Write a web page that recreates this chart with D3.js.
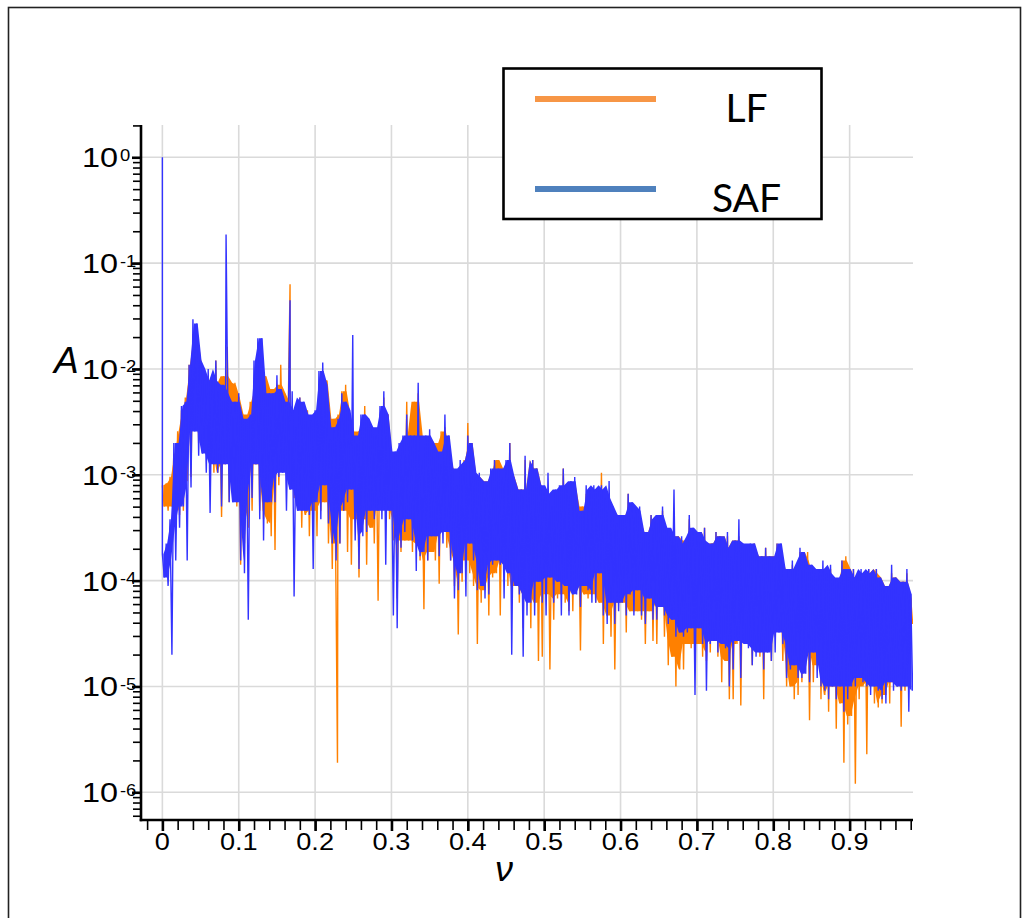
<!DOCTYPE html>
<html><head><meta charset="utf-8">
<script src="https://cdn.jsdelivr.net/npm/d3@7"></script>
<style>html,body{margin:0;padding:0;background:#fff;} svg{display:block;}</style>
</head><body>
<svg id="chart" width="1023" height="918"></svg>
<script>
// ---------------- DATA ----------------
// Spectrum sampled in bins of width freqStep (ν = i * freqStep).
// For every bin: upper and lower excursion of the amplitude A, stored as log10(A).
const freqStep = 0.005;

const safHiLog10 = [
-3.75,-3.65,-3.42,-2.70,-2.70,-2.35,-2.31,-1.96,-1.53,-1.57,
-1.92,-2.11,-2.00,-2.11,-1.92,-2.15,-2.23,-1.88,-2.35,-2.31,
-2.23,-2.47,-2.49,-2.43,-1.92,-1.71,-1.71,-2.23,-2.23,-2.23,
-2.06,-2.19,-2.31,-2.39,-2.21,-2.55,-2.27,-2.31,-2.43,-2.49,
-2.39,-2.02,-1.94,-2.15,-2.67,-2.55,-2.47,-2.23,-2.31,-2.39,
-2.63,-2.70,-2.43,-2.43,-2.47,-2.55,-2.63,-2.35,-2.21,-2.43,
-2.86,-2.78,-2.70,-2.63,-2.43,-2.63,-2.63,-2.13,-2.86,-2.63,
-2.57,-2.70,-2.78,-2.90,-2.43,-2.63,-2.94,-3.10,-2.86,-2.90,
-2.63,-2.70,-3.02,-2.98,-3.06,-3.10,-2.94,-2.86,-2.94,-3.02,
-2.86,-2.70,-3.02,-3.14,-3.14,-2.82,-3.14,-2.86,-2.94,-3.10,
-3.18,-2.98,-3.30,-3.14,-3.10,-2.94,-3.14,-3.06,-3.02,-3.34,
-3.34,-3.10,-3.14,-3.10,-3.14,-3.10,-3.22,-3.06,-3.30,-3.46,
-3.38,-3.38,-3.18,-3.26,-3.34,-3.30,-3.54,-3.54,-3.38,-3.42,
-3.38,-3.30,-3.50,-3.58,-3.14,-3.65,-3.58,-3.65,-3.38,-3.50,
-3.54,-3.62,-3.50,-3.77,-3.65,-3.54,-3.58,-3.69,-3.54,-3.77,
-3.62,-3.42,-3.65,-3.69,-3.65,-3.65,-3.81,-3.77,-3.69,-3.77,
-3.81,-3.65,-3.65,-4.01,-3.89,-3.81,-3.89,-3.69,-3.73,-3.85,
-3.85,-3.93,-3.89,-3.81,-3.93,-3.85,-3.97,-4.01,-3.81,-3.89,
-3.97,-3.89,-3.97,-3.89,-3.93,-3.89,-3.97,-3.89,-3.97,-4.05,
-4.05,-3.85,-3.97,-4.13,-4.01,-3.89,-4.13
];
const safLoLog10 = [
-3.97,-4.05,-4.70,-3.81,-3.50,-3.30,-3.81,-3.12,-2.59,-2.82,
-2.80,-2.98,-3.36,-2.90,-2.98,-3.30,-2.90,-3.26,-3.26,-3.26,
-3.81,-3.93,-4.37,-3.22,-2.90,-3.42,-3.62,-3.26,-3.26,-3.26,
-3.02,-2.98,-3.34,-3.14,-4.15,-3.34,-3.34,-3.34,-3.38,-3.89,
-3.26,-3.42,-3.10,-3.46,-3.65,-3.81,-3.65,-3.34,-3.26,-3.14,
-3.62,-3.89,-3.58,-3.54,-3.34,-3.42,-3.34,-3.42,-3.85,-3.34,
-4.33,-4.45,-3.69,-3.54,-3.42,-3.62,-3.91,-3.77,-3.73,-3.81,
-3.58,-3.58,-3.77,-3.65,-3.54,-3.81,-4.17,-4.09,-3.93,-4.15,
-3.65,-3.81,-4.09,-4.05,-4.17,-4.13,-3.85,-3.81,-3.85,-4.17,
-3.93,-4.70,-4.05,-4.13,-4.72,-4.33,-4.21,-4.33,-4.01,-4.21,
-4.33,-3.97,-4.21,-4.01,-4.33,-4.05,-4.33,-4.13,-4.13,-4.25,
-4.05,-4.09,-4.21,-4.21,-3.93,-4.33,-4.41,-4.21,-4.41,-4.29,
-4.21,-4.33,-4.13,-4.33,-4.09,-4.33,-4.41,-4.17,-4.37,-4.37,
-4.25,-4.33,-4.41,-4.37,-4.53,-4.49,-4.53,-4.49,-4.45,-5.08,
-4.45,-4.60,-5.04,-4.60,-4.57,-4.68,-4.60,-4.64,-5.00,-4.84,
-4.57,-4.92,-4.60,-4.64,-4.80,-4.72,-4.68,-4.84,-4.68,-4.76,
-4.68,-4.49,-4.60,-4.92,-4.84,-4.80,-4.92,-4.92,-4.88,-4.96,
-4.68,-4.92,-5.00,-5.04,-5.12,-5.00,-5.12,-5.00,-5.24,-5.12,
-5.00,-5.00,-4.92,-4.96,-5.00,-5.08,-5.00,-5.04,-5.12,-5.16,
-4.96,-5.04,-5.00,-5.04,-5.00,-5.24,-5.04
];
const lfHiLog10 = [
-3.10,-3.08,-3.02,-2.80,-2.59,-2.39,-2.27,-1.96,-1.67,-1.63,
-1.94,-2.11,-2.07,-2.23,-1.92,-2.15,-2.07,-1.79,-2.15,-2.13,
-2.27,-2.43,-2.49,-2.31,-2.19,-1.83,-2.07,-2.07,-2.39,-2.19,
-2.15,-1.96,-2.23,-2.31,-2.47,-2.39,-2.27,-2.55,-2.39,-2.55,
-2.63,-2.15,-2.02,-2.11,-2.67,-2.47,-2.43,-2.21,-2.15,-2.43,
-2.59,-2.63,-2.55,-2.35,-2.55,-2.63,-2.63,-2.43,-2.27,-2.43,
-2.86,-2.86,-2.78,-2.70,-2.31,-2.63,-2.31,-2.23,-2.86,-2.65,
-2.63,-2.70,-2.78,-2.59,-2.55,-2.78,-2.94,-3.10,-2.98,-2.86,
-2.51,-2.70,-3.02,-3.02,-3.06,-3.10,-2.98,-2.86,-2.86,-2.94,
-2.94,-2.70,-3.02,-3.14,-3.14,-2.86,-3.14,-2.86,-2.94,-3.10,
-3.18,-3.14,-3.42,-3.34,-3.14,-2.94,-3.26,-3.10,-3.10,-3.42,
-3.30,-3.18,-3.30,-3.22,-3.14,-2.98,-3.26,-3.22,-3.34,-3.46,
-3.38,-3.42,-3.18,-3.30,-3.42,-3.42,-3.54,-3.54,-3.38,-3.42,
-3.42,-3.34,-3.54,-3.58,-3.58,-3.58,-3.62,-3.65,-3.42,-3.54,
-3.54,-3.65,-3.50,-3.69,-3.65,-3.54,-3.58,-3.69,-3.58,-3.77,
-3.62,-3.58,-3.69,-3.69,-3.69,-3.65,-3.81,-3.77,-3.69,-3.77,
-3.77,-3.65,-3.77,-3.97,-3.89,-3.85,-3.89,-3.73,-3.81,-3.73,
-3.93,-3.93,-3.89,-3.97,-4.01,-3.89,-4.01,-4.01,-3.81,-3.77,
-4.01,-3.89,-3.97,-3.93,-3.93,-3.89,-3.93,-3.89,-3.97,-4.05,
-4.05,-3.93,-3.97,-4.05,-4.01,-3.93,-4.17
];
const lfLoLog10 = [
-3.30,-3.34,-3.30,-3.50,-3.38,-3.34,-3.06,-3.02,-2.31,-2.70,
-2.63,-2.78,-2.78,-2.98,-2.98,-3.40,-2.90,-3.26,-2.86,-3.30,
-3.85,-3.65,-3.50,-3.34,-2.90,-3.34,-3.42,-3.46,-3.58,-3.71,
-3.10,-2.86,-2.86,-3.14,-3.22,-3.18,-3.50,-3.38,-3.58,-3.34,
-3.58,-3.34,-3.26,-3.65,-3.89,-4.19,-3.65,-3.34,-3.73,-3.85,
-3.42,-3.97,-3.42,-3.85,-3.50,-3.65,-4.19,-3.26,-3.30,-3.42,
-3.62,-4.17,-3.73,-3.62,-3.62,-3.73,-3.65,-3.81,-4.27,-3.81,
-3.73,-3.81,-4.03,-3.54,-3.69,-3.81,-4.05,-4.51,-4.01,-3.81,
-3.93,-4.05,-4.60,-4.21,-4.09,-4.33,-3.97,-3.93,-4.33,-3.81,
-4.05,-4.13,-4.05,-4.21,-4.45,-4.13,-4.45,-4.21,-4.76,-4.72,
-4.13,-4.84,-4.37,-4.17,-4.13,-4.21,-4.29,-4.29,-4.05,-4.66,
-4.13,-4.17,-4.13,-4.21,-4.21,-4.60,-4.33,-4.53,-4.84,-4.21,
-4.21,-4.49,-4.29,-4.29,-4.29,-4.37,-4.60,-4.29,-4.57,-4.60,
-4.21,-4.53,-4.80,-4.72,-5.00,-4.84,-4.84,-4.60,-4.64,-4.72,
-4.60,-4.72,-4.76,-4.68,-4.49,-4.72,-4.96,-4.76,-5.12,-5.12,
-4.60,-5.18,-4.49,-4.57,-4.80,-4.64,-4.72,-5.12,-4.60,-4.76,
-4.53,-4.45,-4.76,-5.00,-5.00,-5.12,-5.08,-4.96,-4.60,-5.32,
-4.96,-4.80,-5.12,-5.08,-5.24,-5.00,-5.40,-5.16,-5.72,-5.36,
-5.28,-5.92,-5.12,-5.00,-5.64,-4.96,-5.16,-5.20,-5.16,-5.08,
-5.16,-4.96,-5.00,-5.38,-5.04,-4.92,-4.41
];
// isolated sharp lines (ν, log10 A)
const safSpikeFreq = [0, 0.0834, 0.1672, 0.2493];
const safSpikeLog10 = [0, -0.73, -1.35, -1.68];
const lfSpikeFreq = [0.1672, 0.2293];
const lfSpikeLog10 = [-1.20, -5.72];

const xTickMajor = [0, 0.1, 0.2, 0.3, 0.4, 0.5, 0.6, 0.7, 0.8, 0.9];
const xTickLabels = ["0", "0.1", "0.2", "0.3", "0.4", "0.5", "0.6", "0.7", "0.8", "0.9"];
const yDecades = [0, -1, -2, -3, -4, -5, -6];
const seriesNames = ["LF", "SAF"];
const seriesColors = ["#ff8000", "#3333ff"];
const legendColors = ["#f79646", "#4f81bd"];

// ---------------- CHART ----------------
const svg = d3.select('#chart');
svg.append('rect').attr('x', 8.5).attr('y', 7.5).attr('width', 1012).attr('height', 940)
  .attr('fill', 'none').attr('stroke', '#222').attr('stroke-width', 1.6);

const x = d3.scaleLinear().domain([-0.028, 0.983]).range([141, 913]);
const y = d3.scaleLog().domain([Math.pow(10, -6.262), Math.pow(10, 0.305)]).range([820, 125]);
const [x0, x1] = x.range();
const [yB, yT] = y.range();

// grid
const grid = svg.append('g').attr('stroke', '#dadada').attr('stroke-width', 1.6);
grid.selectAll('line.v').data(xTickMajor).join('line')
  .attr('x1', d => x(d)).attr('x2', d => x(d)).attr('y1', yT).attr('y2', yB);
grid.selectAll('line.h').data(yDecades).join('line')
  .attr('x1', x0).attr('x2', x1).attr('y1', d => y(Math.pow(10, d))).attr('y2', d => y(Math.pow(10, d)));

// data
svg.append('clipPath').attr('id', 'clip').append('rect')
  .attr('x', x0).attr('y', yT).attr('width', x1 - x0).attr('height', yB - yT);

function buildPoints(hi, lo, sf, sl) {
  const pts = [];
  sf.forEach((f, i) => pts.push({ f: f, a: Math.pow(10, sl[i]), o: 0 }));
  hi.forEach((h, i) => {
    pts.push({ f: i * freqStep, a: Math.pow(10, h), o: 1 });
    pts.push({ f: i * freqStep + freqStep / 2, a: Math.pow(10, lo[i]), o: 1 });
  });
  pts.sort((p, q) => (p.f - q.f) || (p.o - q.o));
  return pts;
}
// dense body of each trace: from the median neighbouring peak down to the shallowest neighbouring dip
function buildBody(hi, lo) {
  const n = hi.length;
  return hi.map((h, i) => {
    const a = Math.max(0, i - 1), b = Math.min(n - 1, i + 1);
    const top = d3.median([hi[a], hi[i], hi[b]]);
    const bot = Math.max(lo[a], lo[i], lo[b]);
    return { f: i * freqStep + freqStep / 4, top: Math.pow(10, Math.max(top, bot)), bot: Math.pow(10, Math.min(top, bot)) };
  });
}
const line = d3.line().x(d => x(d.f)).y(d => y(d.a));
const area = d3.area().x(d => x(d.f)).y0(d => y(d.bot)).y1(d => y(d.top));
const plot = svg.append('g').attr('clip-path', 'url(#clip)');
const series = [
  [lfHiLog10, lfLoLog10, lfSpikeFreq, lfSpikeLog10],
  [safHiLog10, safLoLog10, safSpikeFreq, safSpikeLog10]
];
series.forEach((s, k) => {
  plot.append('path').datum(buildBody(s[0], s[1])).attr('d', area)
    .attr('fill', seriesColors[k]).attr('stroke', 'none');
  plot.append('path').datum(buildPoints(s[0], s[1], s[2], s[3]))
    .attr('d', line).attr('fill', 'none').attr('stroke', seriesColors[k]).attr('stroke-width', 1.4);
});

// axes
const xMinor = d3.range(-2, 50).map(i => i * 0.02).filter(v => v >= x.domain()[0] && v <= x.domain()[1]);
svg.append('g').attr('transform', `translate(0,${yB})`)
  .call(d3.axisBottom(x).tickValues(xMinor).tickSize(10).tickSizeOuter(0).tickFormat(''))
  .call(g => g.select('.domain').remove())
  .call(g => g.selectAll('line').attr('stroke', '#000').attr('stroke-width', 1.6));
svg.append('g').attr('transform', `translate(0,${yB})`)
  .call(d3.axisBottom(x).tickValues(xTickMajor).tickSize(11).tickSizeOuter(0).tickFormat(''))
  .call(g => g.select('.domain').remove())
  .call(g => g.selectAll('line').attr('stroke', '#000').attr('stroke-width', 2.6));

const yMinor = [];
for (let k = -7; k <= 0; k++) for (let m = 1; m <= 9; m++) {
  const v = m * Math.pow(10, k);
  if (v >= y.domain()[0] && v <= y.domain()[1] * 1.0001) yMinor.push(v);
}
svg.append('g').attr('transform', `translate(${x0},0)`)
  .call(d3.axisLeft(y).tickValues(yMinor).tickSize(8).tickSizeOuter(0).tickFormat(''))
  .call(g => g.select('.domain').remove())
  .call(g => g.selectAll('line').attr('stroke', '#000').attr('stroke-width', 1.6));
svg.append('g').attr('transform', `translate(${x0},0)`)
  .call(d3.axisLeft(y).tickValues(yDecades.map(d => Math.pow(10, d))).tickSize(9).tickSizeOuter(0).tickFormat(''))
  .call(g => g.select('.domain').remove())
  .call(g => g.selectAll('line').attr('stroke', '#000').attr('stroke-width', 2.6));

svg.append('line').attr('x1', x0).attr('x2', x0).attr('y1', yT).attr('y2', yB + 1.3)
  .attr('stroke', '#000').attr('stroke-width', 2.6);
svg.append('line').attr('x1', x0 - 1.3).attr('x2', x1).attr('y1', yB).attr('y2', yB)
  .attr('stroke', '#000').attr('stroke-width', 2.6);

// tick labels
const font = '"Liberation Sans", Arial, Helvetica, sans-serif';
xTickMajor.forEach((v, i) => {
  svg.append('text').attr('transform', `translate(${x(v)},850) scale(1.18,1)`)
    .attr('text-anchor', 'middle').attr('font-family', font).attr('font-size', 23)
    .attr('fill', '#000').text(xTickLabels[i]);
});
yDecades.forEach(k => {
  const yy = y(Math.pow(10, k));
  svg.append('text').attr('transform', `translate(118,${yy + 10}) scale(1.2,1)`)
    .attr('text-anchor', 'end').attr('font-family', font).attr('font-size', 27)
    .attr('fill', '#000').text('10');
  svg.append('text').attr('transform', `translate(120,${yy + 3.4}) scale(1.15,1)`)
    .attr('text-anchor', 'start').attr('font-family', font).attr('font-size', 16)
    .attr('fill', '#000').text(String(k));
});

// axis titles
svg.append('text').attr('x', 54).attr('y', 373).attr('font-family', font).attr('font-style', 'italic')
  .attr('font-size', 37).attr('fill', '#000').text('A');
svg.append('text').attr('x', 495).attr('y', 881).attr('font-family', font).attr('font-style', 'italic')
  .attr('font-size', 36).attr('fill', '#000').text('ν');

// legend
const lg = svg.append('g');
lg.append('rect').attr('x', 503.5).attr('y', 68.5).attr('width', 318).attr('height', 150.5)
  .attr('fill', '#fff').attr('stroke', '#000').attr('stroke-width', 2.6);
const legendY = [99, 189];
seriesNames.forEach((n, i) => {
  lg.append('line').attr('x1', 535).attr('x2', 656).attr('y1', legendY[i]).attr('y2', legendY[i])
    .attr('stroke', legendColors[i]).attr('stroke-width', 6);
  lg.append('text').attr('x', 746.5).attr('y', legendY[i] + 23).attr('text-anchor', 'middle')
    .attr('font-family', 'Lato, "Open Sans", sans-serif').attr('font-size', 39).attr('fill', '#000').text(n);
});
</script>
</body></html>
